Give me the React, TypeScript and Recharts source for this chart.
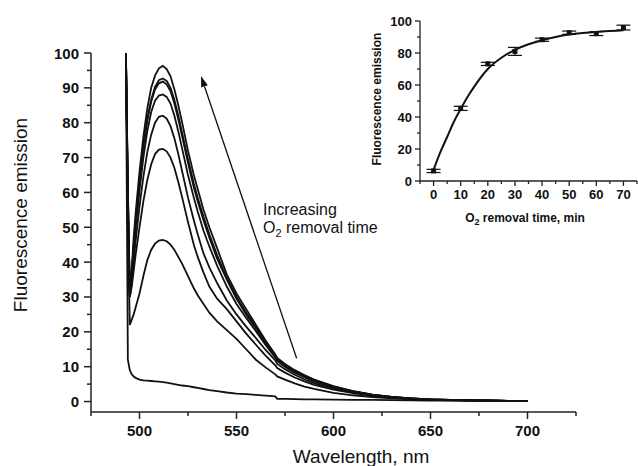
import React from "react";
import { LineChart, Line, XAxis, YAxis, ReferenceLine, ComposedChart, Scatter, ErrorBar } from "recharts";

const FONT = "'Liberation Sans', Arial, sans-serif";

// main spectra, wavelength in nm
const wavelengths = [
  493, 494, 495, 496, 497, 498, 500, 502, 504, 506,
  508, 510, 512, 514, 516, 518, 520, 522, 525, 528,
  530, 533, 536, 540, 545, 550, 555, 560, 565, 570,
  571, 575, 580, 585, 590, 600, 610, 620, 630, 640,
  650, 660, 675, 690, 700,
];
const spec0 = [
  100, 12, 9, 7.8, 7.2, 6.8, 6.3, 6.1, 6, 5.9,
  5.8, 5.7, 5.6, 5.4, 5.2, 5, 4.8, 4.6, 4.4, 4.1,
  3.9, 3.6, 3.3, 3, 2.6, 2.3, 2.1, 1.9, 1.7, 1.5,
  0.8, 0.75, 0.7, 0.65, 0.6, 0.55, 0.5, 0.45, 0.4, 0.35,
  0.3, 0.3, 0.25, 0.2, 0.2,
];
const spec10 = [
  100, 50, 22, 23.5, 25, 27, 31, 36, 40.5, 43.5,
  45.3, 46.2, 46.4, 46, 45, 43.5, 41.5, 39.5, 36, 32.5,
  30.5, 28, 25.5, 23, 20.5, 18, 15, 12, 9.8, 7.8,
  7.2, 6.3, 5.2, 4.3, 3.6, 2.5, 1.8, 1.3, 0.9, 0.6,
  0.45, 0.35, 0.25, 0.2, 0.15,
];
const spec20 = [
  100, 55, 30, 33, 37.5, 42, 50, 57.5, 63.5, 68,
  71, 72.3, 72.5, 71.8, 70, 67, 63, 58.5, 51.5, 45,
  41.5, 37, 33, 29.5, 26.5, 23, 19.5, 16.3, 13.2, 10.4,
  9.6, 8.3, 6.9, 5.8, 4.8, 3.4, 2.4, 1.7, 1.1, 0.75,
  0.5, 0.4, 0.3, 0.2, 0.15,
];
const spec30 = [
  100, 56, 30, 34, 40, 46, 56, 64.5, 71.5, 76.5,
  80, 81.7, 82, 81.2, 79, 75.5, 71, 66, 58.5, 52,
  48, 42.5, 38.5, 34, 29, 25, 21.5, 18.2, 14.8, 11.8,
  10.8, 9.3, 7.7, 6.4, 5.3, 3.7, 2.6, 1.8, 1.2, 0.8,
  0.55, 0.4, 0.3, 0.2, 0.15,
];
const spec40 = [
  100, 58, 30.5, 35.5, 43, 49.5, 60.5, 70, 77.5, 83,
  86.3, 87.8, 88.1, 87.4, 85.5, 82, 77.5, 72.5, 65, 58.5,
  54.5, 49, 44.5, 39, 33, 28, 24, 20.2, 16.2, 12.6,
  11.6, 10, 8.3, 7, 5.8, 4, 2.8, 1.9, 1.2, 0.85,
  0.6, 0.45, 0.3, 0.2, 0.15,
];
const spec50 = [
  100, 60, 30.5, 36.5, 44.5, 51.5, 63, 73, 80.5, 86,
  89.5, 91.3, 91.8, 91, 89, 85.5, 81, 76, 68.5, 61.5,
  57.5, 52, 47, 41, 35, 29.5, 25, 21, 16.8, 13,
  12, 10.3, 8.6, 7.2, 6, 4.2, 2.9, 1.9, 1.3, 0.9,
  0.6, 0.45, 0.3, 0.2, 0.15,
];
const spec60 = [
  100, 60, 31, 37, 45, 52, 63.5, 73.5, 81, 86.5,
  90.3, 92.2, 92.7, 92, 90, 86.5, 82, 77, 69.5, 62.5,
  58.5, 53, 48, 42, 35.5, 30, 25.5, 21.5, 17, 13.2,
  12.2, 10.5, 8.8, 7.4, 6.2, 4.3, 3, 2, 1.3, 0.9,
  0.6, 0.45, 0.3, 0.2, 0.15,
];
const spec70 = [
  100, 62, 31, 38, 47, 54, 66, 76, 84, 90,
  93.5, 95.6, 96.3, 95.4, 93.3, 89.5, 85, 80, 72, 65,
  61, 55, 50, 44, 36.5, 31, 26.5, 22, 17.5, 13.5,
  12.5, 10.8, 9, 7.6, 6.3, 4.4, 3, 2, 1.3, 0.9,
  0.6, 0.45, 0.3, 0.2, 0.15,
];
const spectra = [spec0, spec10, spec20, spec30, spec40, spec50, spec60, spec70];

const mainXTicks = [475, 500, 525, 550, 575, 600, 625, 650, 675, 700, 725];
const mainYTicks = [0, 5, 10, 15, 20, 25, 30, 35, 40, 45, 50, 55, 60, 65, 70, 75, 80, 85, 90, 95, 100];

// inset: emission vs O2 removal time
const times = [0, 10, 20, 30, 40, 50, 60, 70];
const emission = [6.3, 45.4, 73.2, 81, 88.3, 92.7, 92.1, 95.9];
const emissionErr = [1, 1.3, 1, 2.5, 1, 1, 1.2, 1.5];
const fitTimes = [0, 2.5, 5, 7.5, 10, 12.5, 15, 20, 25, 30, 35, 40, 45, 50, 55, 60, 65, 70];
const fitValues = [7, 18, 27.5, 37, 45, 52.5, 59, 70, 77, 82, 85.5, 88, 90, 91.5, 92.5, 93.2, 93.7, 94.2];
const insetXTicks = [-5, 0, 5, 10, 15, 20, 25, 30, 35, 40, 45, 50, 55, 60, 65, 70, 75];
const insetYTicks = [0, 10, 20, 30, 40, 50, 60, 70, 80, 90, 100];

const spectrumData = wavelengths.map((w, i) => {
  const row: any = { w };
  spectra.forEach((s, k) => (row["s" + k] = s[i]));
  return row;
});
const pointData = times.map((t, i) => ({ t, v: emission[i], err: emissionErr[i] }));
const fitData = fitTimes.map((t, i) => ({ t, v: fitValues[i] }));

const MainXTick = ({ x, y, payload }: any) => {
  const major = payload.value % 50 === 0;
  return (
    <g>
      <line x1={x} y1={y} x2={x} y2={y + (major ? 7 : 4)} stroke="#222" strokeWidth={1.5} />
      {major && (
        <text x={x} y={y + 24} textAnchor="middle" fontFamily={FONT} fontWeight="bold" fontSize={15} fill="#111">
          {payload.value}
        </text>
      )}
    </g>
  );
};

const MainYTick = ({ x, y, payload }: any) => {
  const major = payload.value % 10 === 0;
  return (
    <g>
      <line x1={x} y1={y} x2={x - (major ? 7 : 4)} y2={y} stroke="#222" strokeWidth={1.5} />
      {major && (
        <text x={x - 12} y={y + 5.5} textAnchor="end" fontFamily={FONT} fontWeight="bold" fontSize={15} fill="#111">
          {payload.value}
        </text>
      )}
    </g>
  );
};

const InsetXTick = ({ x, y, payload }: any) => {
  const major = payload.value % 10 === 0;
  return (
    <g>
      <line x1={x} y1={y} x2={x} y2={y + (major ? 5 : 3)} stroke="#222" strokeWidth={1.3} />
      {major && (
        <text x={x} y={y + 18} textAnchor="middle" fontFamily={FONT} fontWeight="bold" fontSize={13} fill="#111">
          {payload.value}
        </text>
      )}
    </g>
  );
};

const InsetYTick = ({ x, y, payload }: any) => {
  const major = payload.value % 20 === 0;
  return (
    <g>
      <line x1={x} y1={y} x2={x - (major ? 5 : 3)} y2={y} stroke="#222" strokeWidth={1.3} />
      {major && (
        <text x={x - 8} y={y + 5} textAnchor="end" fontFamily={FONT} fontWeight="bold" fontSize={13} fill="#111">
          {payload.value}
        </text>
      )}
    </g>
  );
};

const Arrow = (p: any) => {
  const { x1, y1, x2, y2 } = p;
  const ang = Math.atan2(y2 - y1, x2 - x1);
  const len = 11;
  const half = 3.5;
  const bx = x2 - len * Math.cos(ang);
  const by = y2 - len * Math.sin(ang);
  const nx = -Math.sin(ang) * half;
  const ny = Math.cos(ang) * half;
  return (
    <g>
      <line x1={x1} y1={y1} x2={bx} y2={by} stroke="#111" strokeWidth={1.3} />
      <polygon points={`${x2},${y2} ${bx + nx},${by + ny} ${bx - nx},${by - ny}`} fill="#111" />
    </g>
  );
};

const SquareDot = ({ cx, cy }: any) => <rect x={cx - 2.5} y={cy - 2.5} width={5} height={5} fill="#111" />;

export default function App() {
  return (
    <div style={{ position: "absolute", left: 0, top: 0, width: 638, height: 466, background: "#fff" }}>
      <div style={{ position: "absolute", left: 0, top: 0 }}>
        <LineChart width={638} height={466} data={spectrumData} margin={{ top: 53, right: 62, bottom: 24, left: 31 }}>
          <XAxis
            dataKey="w"
            type="number"
            domain={[475, 725]}
            ticks={mainXTicks}
            interval={0}
            height={30}
            tickSize={0}
            tickMargin={0}
            tickLine={false}
            axisLine={{ stroke: "#222", strokeWidth: 1.5 }}
            tick={<MainXTick />}
          />
          <YAxis
            type="number"
            domain={[-3, 100]}
            ticks={mainYTicks}
            interval={0}
            width={60}
            tickSize={0}
            tickMargin={0}
            tickLine={false}
            axisLine={{ stroke: "#222", strokeWidth: 1.5 }}
            tick={<MainYTick />}
          />
          {spectra.map((_, k) => (
            <Line
              key={k}
              dataKey={"s" + k}
              type="linear"
              stroke="#111"
              strokeWidth={1.8}
              dot={false}
              isAnimationActive={false}
            />
          ))}
          <ReferenceLine
            segment={[
              { x: 581, y: 12.4 },
              { x: 531.7, y: 93.4 },
            ]}
            shape={Arrow}
          />
        </LineChart>
      </div>

      <div style={{ position: "absolute", left: 330, top: 0 }}>
        <ComposedChart width={308} height={230} margin={{ top: 21, right: 1, bottom: 19, left: 50 }}>
          <XAxis
            dataKey="t"
            type="number"
            domain={[-5, 75]}
            ticks={insetXTicks}
            interval={0}
            height={30}
            tickSize={0}
            tickMargin={0}
            tickLine={false}
            axisLine={{ stroke: "#222", strokeWidth: 1.3 }}
            tick={<InsetXTick />}
          />
          <YAxis
            type="number"
            domain={[0, 100]}
            ticks={insetYTicks}
            interval={0}
            width={40}
            tickSize={0}
            tickMargin={0}
            tickLine={false}
            axisLine={{ stroke: "#222", strokeWidth: 1.3 }}
            tick={<InsetYTick />}
          />
          <Line data={fitData} dataKey="v" type="monotone" stroke="#111" strokeWidth={2} dot={false} isAnimationActive={false} />
          <Scatter data={pointData} dataKey="v" shape={SquareDot} isAnimationActive={false}>
            <ErrorBar dataKey="err" direction="y" width={7} stroke="#111" strokeWidth={1.2} />
          </Scatter>
        </ComposedChart>
      </div>

      <svg width={638} height={466} style={{ position: "absolute", left: 0, top: 0, pointerEvents: "none" }}>
        <text
          x={20}
          y={215}
          transform="rotate(-90 20 215)"
          textAnchor="middle"
          dominantBaseline="central"
          fontFamily={FONT}
          fontSize={19}
          fill="#111"
        >
          Fluorescence emission
        </text>
        <text x={361} y={463} textAnchor="middle" fontFamily={FONT} fontSize={19} fill="#111">
          Wavelength, nm
        </text>
        <text x={263} y={215} fontFamily={FONT} fontSize={16} fill="#111">
          Increasing
        </text>
        <text x={263} y={233} fontFamily={FONT} fontSize={16} fill="#111">
          O<tspan dy={4} fontSize={11}>2</tspan>
          <tspan dy={-4}> removal time</tspan>
        </text>
        <text
          x={377}
          y={99}
          transform="rotate(-90 377 99)"
          textAnchor="middle"
          dominantBaseline="central"
          fontFamily={FONT}
          fontWeight="bold"
          fontSize={12}
          fill="#111"
        >
          Fluorescence emission
        </text>
        <text x={525} y={222} textAnchor="middle" fontFamily={FONT} fontWeight="bold" fontSize={12} fill="#111">
          O<tspan dy={3} fontSize={9}>2</tspan>
          <tspan dy={-3}> removal time, min</tspan>
        </text>
      </svg>
    </div>
  );
}
